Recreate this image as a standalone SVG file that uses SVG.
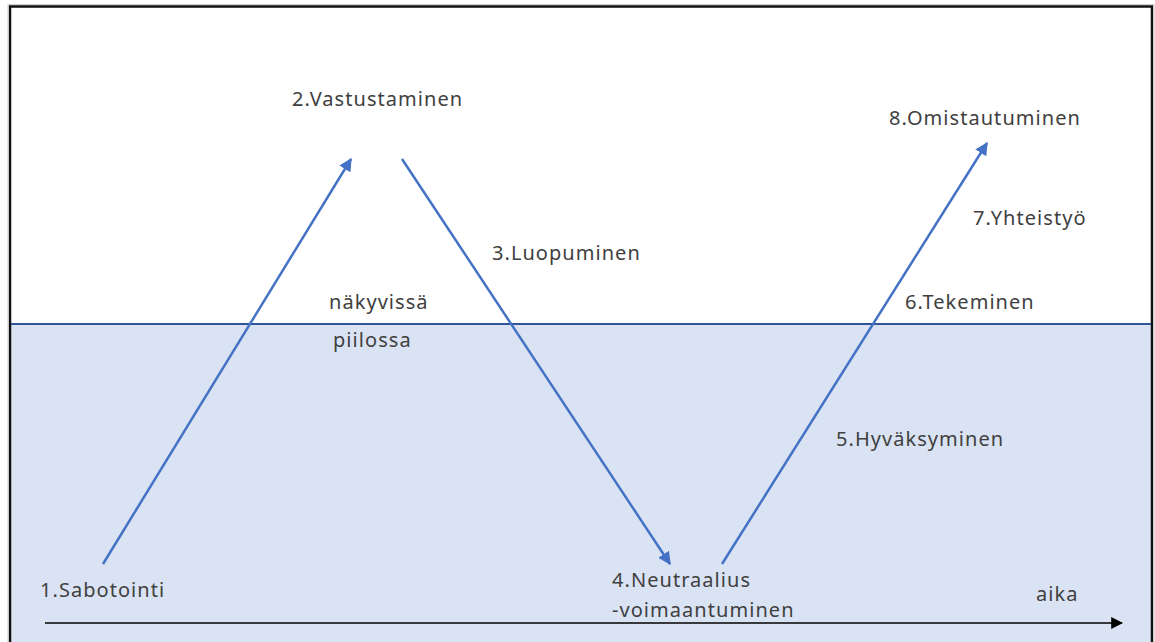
<svg xmlns="http://www.w3.org/2000/svg" width="1155" height="642" viewBox="0 0 1155 642">
  <style>
    .lbl { font-family: "Noto Sans", "Open Sans", "Liberation Sans", sans-serif; font-size: 20px; letter-spacing: 1.05px; fill: #404040; }
    .phase { fill: none; stroke: #4472C4; stroke-width: 2.5; marker-end: url(#blueHead); }
  </style>
  <defs>
    <marker id="blueHead" viewBox="0 0 10 10" refX="9" refY="5" markerWidth="5.2" markerHeight="5.2" orient="auto" markerUnits="strokeWidth">
      <path d="M0,0 L10,5 L0,10 z" fill="#4472C4"/>
    </marker>
    <marker id="blackHead" viewBox="0 0 10 10" refX="9" refY="5" markerWidth="8" markerHeight="8" orient="auto" markerUnits="strokeWidth">
      <path d="M0,0 L10,5 L0,10 z" fill="#000"/>
    </marker>
  </defs>

  <!-- background and frame -->
  <rect x="0" y="0" width="1155" height="642" fill="#ffffff"/>
  <rect x="10" y="324" width="1142" height="318" fill="#DAE3F3"/>
  <path d="M10,642 V6.5 H1152 V642" fill="none" stroke="#111" stroke-width="2.5"/>
  <path d="M8,642 V4.5 H1154 V642" fill="none" stroke="#ccc" stroke-width="1"/>

  <!-- surface line between visible and hidden -->
  <line id="surface" x1="11" y1="324" x2="1151" y2="324" stroke="#2F5597" stroke-width="2"/>

  <g id="connectors">
    <line class="phase" x1="103" y1="564" x2="351" y2="159"/>
    <line class="phase" x1="402" y1="159" x2="670" y2="564"/>
    <line class="phase" x1="722" y1="564" x2="987" y2="143"/>
    <line x1="45" y1="623" x2="1122" y2="623" stroke="#000" stroke-width="1.5" marker-end="url(#blackHead)"/>
  </g>

  <g id="n1"><text class="lbl" x="40" y="597">1.Sabotointi</text></g>
  <g id="n2"><text class="lbl" x="292" y="106">2.Vastustaminen</text></g>
  <g id="n3"><text class="lbl" x="492" y="260">3.Luopuminen</text></g>
  <g id="n4">
    <text class="lbl" x="612" y="587">4.Neutraalius</text>
    <text class="lbl" x="612" y="617">-voimaantuminen</text>
  </g>
  <g id="n5"><text class="lbl" x="836" y="446">5.Hyväksyminen</text></g>
  <g id="n6"><text class="lbl" x="905" y="309">6.Tekeminen</text></g>
  <g id="n7"><text class="lbl" x="973" y="225">7.Yhteistyö</text></g>
  <g id="n8"><text class="lbl" x="889" y="125">8.Omistautuminen</text></g>
  <g id="visible"><text class="lbl" x="329" y="309">näkyvissä</text></g>
  <g id="hidden"><text class="lbl" x="333" y="347">piilossa</text></g>
  <g id="time"><text class="lbl" x="1036" y="601">aika</text></g>
</svg>
